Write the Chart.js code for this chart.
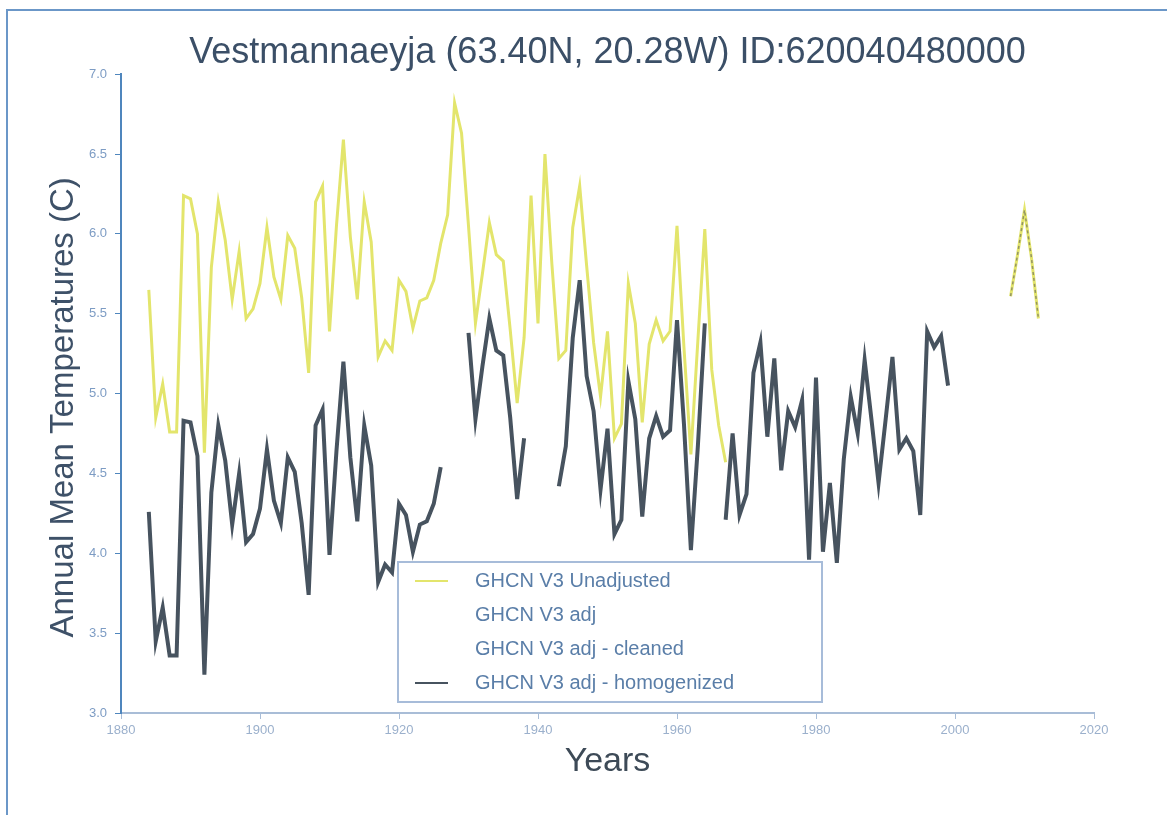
<!DOCTYPE html>
<html><head><meta charset="utf-8">
<script src="https://cdn.jsdelivr.net/npm/chart.js@4.4.1/dist/chart.umd.min.js"></script>
<style>
html,body{margin:0;padding:0;background:#fff;}
#wrap{position:relative;width:1167px;height:815px;overflow:hidden;background:#fff;}
#frame{position:absolute;left:6px;top:9px;right:-10px;bottom:-10px;border-top:2px solid #6b97c8;border-left:2px solid #6b97c8;pointer-events:none;}
canvas{position:absolute;left:0;top:0;}
</style></head><body>
<div id="wrap"><canvas id="c" width="1167" height="815"></canvas><div id="frame"></div></div>
<script>
const chartTitle = 'Vestmannaeyja (63.40N, 20.28W) ID:620040480000';
const xTitle = 'Years';
const yTitle = 'Annual Mean Temperatures (C)   ';
const seriesNames = ['GHCN V3 Unadjusted', 'GHCN V3 adj', 'GHCN V3 adj - cleaned', 'GHCN V3 adj - homogenized'];

const years = [
  1884,1885,1886,1887,1888,1889,
  1890,1891,1892,1893,1894,1895,1896,1897,1898,1899,
  1900,1901,1902,1903,1904,1905,1906,1907,1908,1909,
  1910,1911,1912,1913,1914,1915,1916,1917,1918,1919,
  1920,1921,1922,1923,1924,1925,1926,1927,1928,1929,
  1930,1931,1932,1933,1934,1935,1936,1937,1938,1939,
  1940,1941,1942,1943,1944,1945,1946,1947,1948,1949,
  1950,1951,1952,1953,1954,1955,1956,1957,1958,1959,
  1960,1961,1962,1963,1964,1965,1966,1967,1968,1969,
  1970,1971,1972,1973,1974,1975,1976,1977,1978,1979,
  1980,1981,1982,1983,1984,1985,1986,1987,1988,1989,
  1990,1991,1992,1993,1994,1995,1996,1997,1998,1999,
  2000,2001,2002,2003,2004,2005,2006,2007,2008,2009,
  2010,2011,2012
];

const unadjusted = [
  5.65,4.85,5.06,4.76,4.76,6.24,
  6.22,6.00,4.63,5.79,6.20,5.96,5.59,5.89,5.47,5.53,
  5.69,6.04,5.73,5.59,5.99,5.91,5.60,5.13,6.20,6.30,
  5.39,6.05,6.59,5.98,5.59,6.20,5.95,5.23,5.33,5.27,
  5.71,5.64,5.41,5.58,5.60,5.71,5.94,6.12,6.82,6.63,
  6.05,5.44,5.75,6.07,5.87,5.83,5.40,4.94,5.35,6.24,
  5.44,6.50,5.81,5.22,5.27,6.04,6.30,5.80,5.32,4.98,
  5.39,4.72,4.81,5.69,5.44,4.82,5.31,5.46,5.33,5.39,
  6.05,5.29,4.62,5.33,6.03,5.15,4.80,4.57,null,null,
  null,null,null,null,null,null,null,null,null,null,
  null,null,null,null,null,null,null,null,null,null,
  null,null,null,null,null,null,null,null,null,null,
  null,null,null,null,null,null,null,null,5.61,5.87,
  6.15,5.85,5.47
];

const adjusted = [
  null,null,null,null,null,null,
  null,null,null,null,null,null,null,null,null,null,
  null,null,null,null,null,null,null,null,null,null,
  null,null,null,null,null,null,null,null,null,null,
  null,null,null,null,null,null,null,null,null,null,
  null,null,null,null,null,null,null,null,null,null,
  null,null,null,null,null,null,null,null,null,null,
  null,null,null,null,null,null,null,null,null,null,
  null,null,null,null,null,null,null,null,null,null,
  null,null,null,null,null,null,null,null,null,null,
  null,null,null,null,null,null,null,null,null,null,
  null,null,null,null,null,null,null,null,null,null,
  null,null,null,null,null,null,null,null,5.61,5.87,
  6.15,5.85,5.47
];

const cleaned = [];

const homogenized = [
  4.26,3.45,3.66,3.36,3.36,4.83,
  4.82,4.61,3.24,4.38,4.80,4.58,4.18,4.50,4.07,4.12,
  4.28,4.65,4.33,4.19,4.60,4.51,4.19,3.74,4.80,4.90,
  3.99,4.64,5.20,4.60,4.20,4.80,4.55,3.82,3.93,3.88,
  4.31,4.24,4.01,4.18,4.20,4.31,4.54,null,null,null,
  5.38,4.84,5.17,5.47,5.27,5.24,4.85,4.34,4.72,null,
  null,null,null,4.42,4.67,5.35,5.71,5.11,4.89,4.40,
  4.78,4.12,4.21,5.08,4.84,4.23,4.72,4.86,4.73,4.77,
  5.46,4.81,4.02,4.67,5.44,null,null,4.21,4.75,4.24,
  4.37,5.13,5.32,4.73,5.22,4.52,4.89,4.79,4.96,3.96,
  5.10,4.01,4.44,3.94,4.59,4.98,4.75,5.21,4.83,4.44,
  4.83,5.23,4.65,4.72,4.64,4.24,5.39,5.29,5.36,5.05,
  null,null,null,null,null,null,null,null,null,null,
  null,null,null
];

const toPoints = arr => years.map((yr, i) => ({x: yr, y: (arr[i] === undefined ? null : arr[i])}));

const axisBlue = '#4f86bd';
const tickColor = '#7d9cc4';

const floatLegend = {
  id: 'floatLegend',
  afterDraw(chart) {
    const ctx = chart.ctx, a = chart.chartArea;
    const bx = a.left + 277, by = a.bottom - 151, bw = 424, bh = 140;
    ctx.save();
    ctx.fillStyle = '#ffffff';
    ctx.fillRect(bx, by, bw, bh);
    ctx.strokeStyle = '#a7bcd9';
    ctx.lineWidth = 2;
    ctx.strokeRect(bx, by, bw, bh);
    ctx.font = '20px "Liberation Sans", Arial, sans-serif';
    ctx.textBaseline = 'middle';
    chart.data.datasets.forEach((ds, i) => {
      const ly = by + 19 + i * 34;
      if (ds.legendSwatch) {
        ctx.strokeStyle = ds.borderColor;
        ctx.lineWidth = 2;
        ctx.beginPath();
        ctx.moveTo(bx + 17, ly);
        ctx.lineTo(bx + 50, ly);
        ctx.stroke();
      }
      ctx.fillStyle = '#5a7ea8';
      ctx.fillText(ds.label, bx + 77, ly);
    });
    ctx.restore();
  }
};

new Chart(document.getElementById('c'), {
  type: 'line',
  data: {
    datasets: [
      {label: seriesNames[0], data: toPoints(unadjusted), borderColor: '#e3e56c', borderWidth: 3, pointRadius: 0, spanGaps: false, tension: 0, order: 4, legendSwatch: true},
      {label: seriesNames[1], data: toPoints(adjusted), borderColor: 'rgba(120,120,95,0.75)', borderWidth: 1.5, borderDash: [3, 3], pointRadius: 0, spanGaps: false, tension: 0, order: 1, legendSwatch: false},
      {label: seriesNames[2], data: toPoints(cleaned), borderColor: 'rgba(255,255,255,0)', borderWidth: 1, pointRadius: 0, spanGaps: false, tension: 0, order: 2, legendSwatch: false},
      {label: seriesNames[3], data: toPoints(homogenized), borderColor: '#47535f', borderWidth: 4, pointRadius: 0, spanGaps: false, tension: 0, order: 3, legendSwatch: true}
    ]
  },
  options: {
    responsive: false,
    animation: false,
    devicePixelRatio: 1,
    layout: {padding: {left: 40, right: 73, top: 8, bottom: 29}},
    plugins: {
      legend: {display: false},
      tooltip: {enabled: false},
      title: {
        display: true, text: chartTitle, fullSize: false,
        color: '#3b4f67',
        font: {family: '"Liberation Sans", Arial, sans-serif', size: 36, weight: 'normal'},
        padding: {top: 23, bottom: 0}
      }
    },
    scales: {
      x: {
        type: 'linear', min: 1880, max: 2020,
        afterFit: s => { s.height = 73; },
        ticks: {stepSize: 20, color: '#9bb0cc', padding: 4, font: {family: '"Liberation Sans", Arial, sans-serif', size: 13}, callback: v => String(v)},
        grid: {drawOnChartArea: false, drawTicks: true, tickLength: 6, color: '#a9bdd7'},
        border: {display: true, color: '#a9bdd7', width: 2},
        title: {display: true, text: xTitle, color: '#3d4a57', padding: {top: 4, bottom: 4}, font: {family: '"Liberation Sans", Arial, sans-serif', size: 34}}
      },
      y: {
        min: 3, max: 7,
        afterFit: s => { s.width = 81; },
        ticks: {stepSize: 0.5, color: tickColor, padding: 8, font: {family: '"Liberation Sans", Arial, sans-serif', size: 13}, callback: v => Number(v).toFixed(1)},
        grid: {drawOnChartArea: false, drawTicks: true, tickLength: 6, color: axisBlue},
        border: {display: true, color: axisBlue, width: 2},
        title: {display: true, text: yTitle, color: '#3e5168', padding: {top: 4, bottom: 4}, font: {family: '"Liberation Sans", Arial, sans-serif', size: 33}}
      }
    }
  },
  plugins: [floatLegend]
});
</script>
</body></html>
